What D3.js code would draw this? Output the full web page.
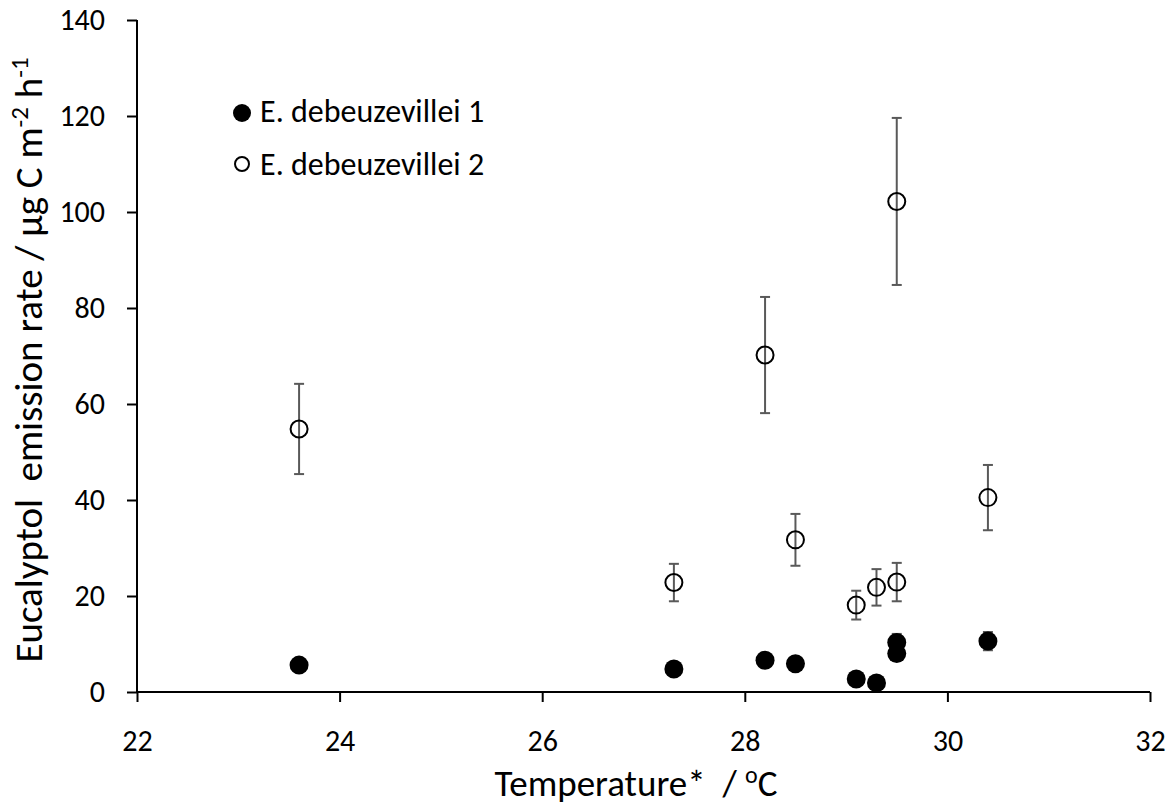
<!DOCTYPE html>
<html>
<head>
<meta charset="utf-8">
<script src="https://cdn.jsdelivr.net/npm/d3@7"></script>
<style>
  body { margin: 0; background: #fff; }
  svg text { font-family: Carlito, Calibri, Lato, sans-serif; fill: #000; }
</style>
</head>
<body>
<div id="chart"></div>
<script>
// series 1 (filled)
const temp1 = [23.6, 27.3, 28.2, 28.5, 29.1, 29.3, 29.5, 29.5, 30.4];
const rate1 = [5.6, 4.8, 6.6, 5.9, 2.7, 1.9, 10.3, 8.0, 10.6];
const err1 = [0.6, 0.5, 0.7, 0.6, 0.3, 0.2, 1.8, 0.9, 1.9];

// series 2 (open)
const temp2 = [23.6, 27.3, 28.2, 28.5, 29.1, 29.3, 29.5, 29.5, 30.4];
const rate2 = [54.8, 22.8, 70.2, 31.7, 18.1, 21.8, 102.2, 22.9, 40.5];
const err2 = [9.4, 3.9, 12.1, 5.4, 3.0, 3.8, 17.4, 4.0, 6.8];

const xTicks = [22, 24, 26, 28, 30, 32];
const yTicks = [0, 20, 40, 60, 80, 100, 120, 140];
const legendLabels = ["E. debeuzevillei 1", "E. debeuzevillei 2"];

const width = 1172, height = 809;
const margin = { left: 137, right: 22, top: 20, bottom: 117 };

const svg = d3.select("#chart").append("svg")
    .attr("width", width)
    .attr("height", height);

const x = d3.scaleLinear().domain([22, 32]).range([margin.left, width - margin.right]);
const y = d3.scaleLinear().domain([0, 140]).range([height - margin.bottom, margin.top]);

// axes
const xAxis = svg.append("g")
    .attr("transform", "translate(0," + y(0) + ")")
    .call(d3.axisBottom(x).tickValues(xTicks).tickSize(10).tickPadding(28).tickFormat(d3.format("d")));
const yAxis = svg.append("g")
    .attr("transform", "translate(" + x(22) + ",0)")
    .call(d3.axisLeft(y).tickValues(yTicks).tickSize(10).tickPadding(22).tickFormat(d3.format("d")));

[xAxis, yAxis].forEach(g => {
    g.select(".domain").attr("stroke", "#000").attr("stroke-width", 2);
    g.selectAll(".tick line").attr("stroke", "#000").attr("stroke-width", 2);
    g.selectAll(".tick text").style("font-size", "30px");
});
yAxis.select(".domain").attr("d", "M0," + y(140) + "V" + y(0));
xAxis.select(".domain").attr("d", "M" + x(22) + ",0H" + x(32));

// error bars
function errorBars(temps, rates, errs) {
    const data = temps.map((t, i) => ({ t: t, v: rates[i], e: errs[i] }));
    const g = svg.append("g").attr("stroke", "#595959").attr("stroke-width", 2);
    g.selectAll("line.v").data(data).join("line")
        .attr("x1", d => x(d.t)).attr("x2", d => x(d.t))
        .attr("y1", d => y(d.v - d.e)).attr("y2", d => y(d.v + d.e));
    g.selectAll("line.top").data(data).join("line")
        .attr("x1", d => x(d.t) - 5).attr("x2", d => x(d.t) + 5)
        .attr("y1", d => y(d.v + d.e)).attr("y2", d => y(d.v + d.e));
    g.selectAll("line.bot").data(data).join("line")
        .attr("x1", d => x(d.t) - 5).attr("x2", d => x(d.t) + 5)
        .attr("y1", d => y(d.v - d.e)).attr("y2", d => y(d.v - d.e));
    return data;
}

const d2 = errorBars(temp2, rate2, err2);
const d1 = errorBars(temp1, rate1, err1);

svg.append("g").selectAll("circle").data(d2).join("circle")
    .attr("cx", d => x(d.t)).attr("cy", d => y(d.v)).attr("r", 8.5)
    .attr("fill", "none").attr("stroke", "#000").attr("stroke-width", 2);

svg.append("g").selectAll("circle").data(d1).join("circle")
    .attr("cx", d => x(d.t)).attr("cy", d => y(d.v)).attr("r", 9.5)
    .attr("fill", "#000");

// legend
const legend = svg.append("g").attr("transform", "translate(242,113)");
legend.append("circle").attr("r", 9).attr("fill", "#000");
legend.append("circle").attr("cy", 51).attr("r", 7)
    .attr("fill", "none").attr("stroke", "#000").attr("stroke-width", 2);
legend.selectAll("text").data(legendLabels).join("text")
    .attr("x", 18).attr("y", (d, i) => i * 53 + 9)
    .style("font-size", "32px")
    .text(d => d);

// axis titles
svg.append("text")
    .attr("x", 636).attr("y", 796)
    .attr("text-anchor", "middle")
    .style("font-size", "37px")
    .attr("xml:space", "preserve")
    .html('Temperature*  / <tspan dy="-13" font-size="24px">o</tspan><tspan dy="13">C</tspan>');

svg.append("text")
    .attr("transform", "translate(42,360) rotate(-90)")
    .attr("text-anchor", "middle")
    .style("font-size", "39px")
    .attr("xml:space", "preserve")
    .html('Eucalyptol  emission rate / µg C m<tspan dy="-14" font-size="25px">-2</tspan><tspan dy="14"> h</tspan><tspan dy="-14" font-size="25px">-1</tspan>');
</script>
</body>
</html>
